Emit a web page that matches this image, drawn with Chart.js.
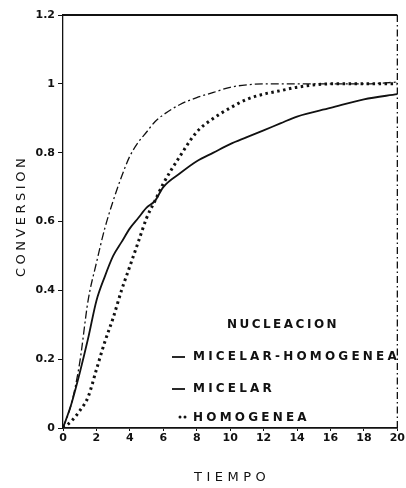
<!DOCTYPE html>
<html>
<head>
<meta charset="utf-8">
<script src="https://cdn.jsdelivr.net/npm/chart.js@4.4.0/dist/chart.umd.min.js"></script>
<style>
  html, body { margin: 0; padding: 0; background: #fff; }
  #wrap { width: 406px; height: 488px; position: relative; }
</style>
</head>
<body>
<div id="wrap"><canvas id="chart"></canvas></div>
<script>
// datos
const tiempo = [0, 0.5, 1, 1.5, 2, 2.5, 3, 3.5, 4, 4.5, 5, 5.5, 6, 7, 8, 9, 10, 11, 12, 13, 14, 16, 18, 20];
const micelarHomogenea = [0, 0.07, 0.19, 0.37, 0.48, 0.58, 0.66, 0.73, 0.79, 0.83, 0.86, 0.89, 0.91, 0.94, 0.96, 0.975, 0.99, 0.997, 1.0, 1.0, 1.0, 1.0, 1.0, 1.005];
const micelar = [0, 0.07, 0.16, 0.26, 0.37, 0.44, 0.50, 0.54, 0.58, 0.61, 0.64, 0.66, 0.70, 0.74, 0.775, 0.80, 0.825, 0.845, 0.865, 0.885, 0.905, 0.93, 0.955, 0.97];
const homogenea = [0, 0.02, 0.05, 0.09, 0.17, 0.25, 0.32, 0.40, 0.47, 0.54, 0.61, 0.66, 0.71, 0.79, 0.86, 0.90, 0.93, 0.955, 0.97, 0.98, 0.99, 1.0, 1.0, 1.0];
const xTicks = [0, 2, 4, 6, 8, 10, 12, 14, 16, 18, 20];
const yTicks = [0, 0.2, 0.4, 0.6, 0.8, 1, 1.2];
const leyendaTitulo = 'NUCLEACION';
const leyendaNombres = ['MICELAR-HOMOGENEA', 'MICELAR', 'HOMOGENEA'];

const INK = '#111';

function toPoints(ys) {
    return tiempo.map((t, i) => ({ x: t, y: ys[i] }));
}

// marco, titulos de ejes y leyenda
const extras = {
    id: 'extras',
    afterDraw(chart) {
        const ctx = chart.ctx;
        const a = chart.chartArea;
        ctx.save();
        ctx.strokeStyle = INK;
        // borde superior
        ctx.lineWidth = 1.8;
        ctx.beginPath();
        ctx.moveTo(a.left, a.top);
        ctx.lineTo(a.right, a.top);
        ctx.stroke();
        // borde derecho
        ctx.lineWidth = 1.3;
        ctx.setLineDash([7, 3, 1.5, 3]);
        ctx.beginPath();
        ctx.moveTo(a.right, a.top);
        ctx.lineTo(a.right, a.bottom);
        ctx.stroke();
        ctx.setLineDash([]);

        ctx.fillStyle = INK;
        ctx.textBaseline = 'middle';

        // titulos de ejes
        ctx.font = '13px "DejaVu Sans"';
        ctx.letterSpacing = '4.5px';
        ctx.textAlign = 'center';
        ctx.fillText('TIEMPO', (a.left + a.right) / 2 + 2, 478);
        ctx.save();
        ctx.translate(22, 218);
        ctx.rotate(-Math.PI / 2);
        ctx.letterSpacing = '3.5px';
        ctx.fillText('CONVERSION', 2, 0);
        ctx.restore();

        // leyenda
        ctx.font = 'bold 12px "DejaVu Sans"';
        ctx.letterSpacing = '2.5px';
        ctx.textAlign = 'center';
        ctx.fillText(leyendaTitulo, 283, 325);
        ctx.letterSpacing = '3.2px';
        ctx.textAlign = 'left';
        const filas = [357, 389, 418];
        leyendaNombres.forEach((nombre, i) => {
            const y = filas[i];
            ctx.fillText(nombre, 193, y);
            if (i < 2) {
                ctx.lineWidth = 1.8;
                ctx.beginPath();
                ctx.moveTo(172, y);
                ctx.lineTo(185, y);
                ctx.stroke();
            } else {
                ctx.beginPath();
                ctx.arc(180, y - 1, 1.5, 0, Math.PI * 2);
                ctx.arc(185, y - 1, 1.5, 0, Math.PI * 2);
                ctx.fill();
            }
        });
        ctx.restore();
    }
};

new Chart(document.getElementById('chart'), {
    type: 'line',
    data: {
        datasets: [{
            label: leyendaNombres[0],
            data: toPoints(micelarHomogenea),
            borderColor: INK,
            borderWidth: 1.3,
            borderDash: [8, 3, 2, 3],
            pointRadius: 0,
            cubicInterpolationMode: 'monotone'
        }, {
            label: leyendaNombres[1],
            data: toPoints(micelar),
            borderColor: INK,
            borderWidth: 1.8,
            pointRadius: 0,
            cubicInterpolationMode: 'monotone'
        }, {
            label: leyendaNombres[2],
            data: toPoints(homogenea),
            borderColor: INK,
            borderWidth: 3,
            borderDash: [2.5, 3.5],
            pointRadius: 0,
            cubicInterpolationMode: 'monotone'
        }]
    },
    options: {
        responsive: true,
        maintainAspectRatio: false,
        animation: false,
        layout: { padding: { left: 0, right: 6, top: 15, bottom: 0 } },
        plugins: {
            legend: { display: false },
            tooltip: { enabled: false }
        },
        scales: {
            x: {
                type: 'linear',
                min: 0,
                max: 20,
                afterBuildTicks: s => { s.ticks = xTicks.map(v => ({ value: v })); },
                afterFit: s => { s.height = 60; },
                ticks: {
                    color: INK,
                    font: { family: 'DejaVu Sans', size: 11, weight: 'bold' },
                    padding: 1,
                    maxRotation: 0,
                    autoSkip: false
                },
                grid: { drawOnChartArea: false, drawTicks: true, tickLength: 3, color: INK },
                border: { display: true, color: INK, width: 1.8 }
            },
            y: {
                min: 0,
                max: 1.2,
                afterBuildTicks: s => { s.ticks = yTicks.map(v => ({ value: v })); },
                afterFit: s => { s.width = 63; },
                ticks: {
                    color: INK,
                    font: { family: 'DejaVu Sans', size: 11, weight: 'bold' },
                    padding: 3,
                    callback: v => String(Math.round(v * 10) / 10)
                },
                grid: { drawOnChartArea: false, drawTicks: true, tickLength: 5, color: INK },
                border: { display: true, color: INK, width: 1.3, dash: [7, 3, 1.5, 3] }
            }
        }
    },
    plugins: [extras]
});
</script>
</body>
</html>
